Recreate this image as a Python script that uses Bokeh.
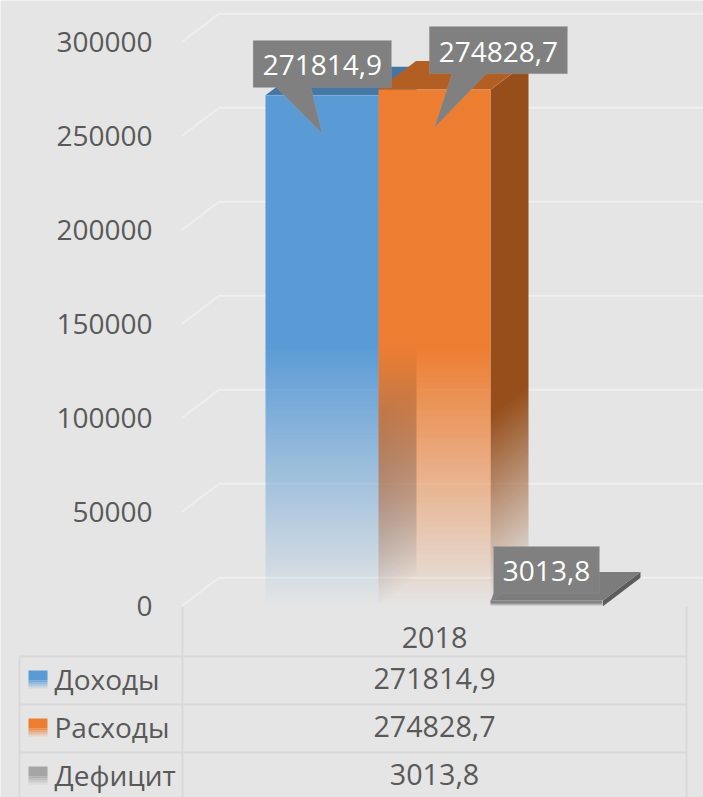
import math
import numpy as np
from bokeh.plotting import figure
from bokeh.models import LinearAxis, FixedTicker, BasicTickFormatter, ColumnDataSource
from bokeh.core.properties import value
from bokeh.embed import file_html
from bokeh.resources import INLINE

# ---- data ----
year = "2018"
series = ["Доходы", "Расходы", "Дефицит"]
values = [271814.9, 274828.7, 3013.8]
labels = ["271814,9", "274828,7", "3013,8"]
ticks = [0, 50000, 100000, 150000, 200000, 250000, 300000]

# ---- style / layout (pixels) ----
W, H = 703, 797
BG = "#e5e5e5"
GRID = "#efefef"
TABLE = "#d9d9d9"
TXT = "#595959"
FONT = "Open Sans"
FS = "28px"
FS_TABLE = "28.7px"
FS_LEG = "28px"
Y0 = 605.7            # pixel row of value 0 at the front
PX_PER = 94.0 / 50000 # pixels per unit
DX, DY = 37.5, 28.5   # depth of the 3D projection
BAR_X = [265, 378, 490]
BAR_W = [113, 112, 112]
FADE_FROM = 0.5 * max(values)
COL_FRONT = ["#5b9bd5", "#ed7d31", "#808080"]
COL_TOP = ["#4676a3", "#b35e22", "#7c7c7c"]
COL_SIDE = ["#3f6a92", "#964e1b", "#5c5c5c"]


def yd(px):
    return (Y0 - px) / PX_PER


def off(px):
    return px / PX_PER


def rowof(v):
    return Y0 - v * PX_PER


p = figure(width=W, height=H, output_backend="svg", toolbar_location=None,
           x_range=(0, W), y_range=(yd(H), yd(0)), min_border=0,
           background_fill_color=BG, border_fill_color=BG, outline_line_color=None)
p.xaxis.visible = False
p.yaxis.visible = False
p.grid.visible = False

axis = LinearAxis(fixed_location=181, ticker=FixedTicker(ticks=ticks),
                  formatter=BasicTickFormatter(use_scientific=False),
                  axis_line_color=None, major_tick_line_color=None, minor_tick_line_color=None,
                  major_label_standoff=23, major_label_text_font=FONT,
                  major_label_text_font_size=FS, major_label_text_color=TXT)
p.add_layout(axis, "left")

for t in ticks:
    p.line([181, 181 + DX, W], [t, t + off(DY), t + off(DY)], line_color=GRID, line_width=2)


def face(x0, w, v, color, skewed=False, gain=1.0, fade_from=FADE_FROM):
    """A bar face as an RGBA picture that fades towards the floor."""
    depth = DY if skewed else 0
    top = math.floor(rowof(v) - depth)
    last = math.ceil(Y0)
    rows_ = np.arange(top, last)[:, None] + 0.5
    cols = (np.arange(w)[None, :] + 0.5)
    f = rows_ + cols / DX * depth
    first = rowof(fade_from)
    t = np.clip(gain * (Y0 - f) / (Y0 - first), 0, 1)
    cover = np.clip(f - rowof(v) + 0.5, 0, 1) * np.clip(Y0 - f + 0.5, 0, 1)
    rgba = np.zeros((last - top, w, 4), dtype=np.uint8)
    for k, i in enumerate((1, 3, 5)):
        rgba[..., k] = int(color[i:i + 2], 16)
    rgba[..., 3] = np.round(255 * t * cover).astype(np.uint8)
    img = rgba[::-1].view(np.uint32).reshape(last - top, w)
    p.image_rgba(image=[img], x=x0, y=yd(last), dw=w, dh=off(last - top))


# walls, tops, front faces
face(BAR_X[1], 38, values[0], COL_SIDE[0], skewed=True, gain=1.35)
face(BAR_X[2], 38, values[1], COL_SIDE[1], skewed=True, gain=1.35)
for i in (0, 1):
    v = values[i]
    x = BAR_X[i]
    w = BAR_W[i]
    p.patch([x, x + DX, x + w + DX, x + w], [v, v + off(DY), v + off(DY), v],
            fill_color=COL_TOP[i], line_color=None)
face(BAR_X[0], BAR_W[0], values[0], COL_FRONT[0])
face(BAR_X[1], BAR_W[1], values[1], COL_FRONT[1])

# deficit slab
x2, w2 = BAR_X[2], BAR_W[2] + 0.5
p.patch([x2 + w2, x2 + w2 + DX, x2 + w2 + DX, x2 + w2],
        [0, off(DY), values[2] + off(DY), values[2]], fill_color=COL_SIDE[2], line_color=None)
p.patch([x2, x2 + DX, x2 + w2 + DX, x2 + w2],
        [values[2], values[2] + off(DY), values[2] + off(DY), values[2]], fill_color=COL_TOP[2], line_color=None)
face(BAR_X[2], BAR_W[2], values[2], COL_FRONT[2], fade_from=values[2] * 0.6)

# callouts
CALL = "#808080"
boxes = [
    dict(l=252.6, r=391.0, dtop=-54.7, dbot=-7.7, b0=276.0, b1=310.5, tip=321.7, dtip=38.5, dtext=1),
    dict(l=428.8, r=567.0, dtop=-63.0, dbot=-15.7, b0=451.6, b1=486.0, tip=434.0, dtip=38.0, dtext=1.5),
    dict(l=493.0, r=599.0, dtop=-54.0, dbot=-7.3, b0=493.0, b1=501.0, tip=490.0, dtip=1.5, dtext=1),
]
for b, v, lab in zip(boxes, values, labels):
    top, bot = v - off(b["dtop"]), v - off(b["dbot"])
    tip = v - off(b["dtip"])
    p.patch([b["l"], b["r"], b["r"], b["b1"], b["tip"], b["b0"], b["l"]],
            [top, top, bot, bot, tip, bot, bot], fill_color=CALL, line_color="#a6a6a6",
            line_width=0.7, line_alpha=0.3)
    p.text([(b["l"] + b["r"]) / 2], [(top + bot) / 2 - off(b["dtext"])], text=[lab], text_color="#ffffff",
           text_font=value(FONT), text_font_size=FS, text_align="center", text_baseline="middle")

# data table
tx0, tx1, tx2 = 19, 182, 686
rows = [656, 704, 752, 800]
for r in rows:
    p.line([tx0, tx2], [yd(r), yd(r)], line_color=TABLE, line_width=2)
p.line([tx1, tx1], [yd(606), yd(H)], line_color=TABLE, line_width=2)
p.line([tx2, tx2], [yd(606), yd(H)], line_color=TABLE, line_width=2)
p.line([tx0, tx0], [yd(656), yd(H)], line_color=TABLE, line_width=2)

p.text([434], [yd(637)], text=[year], text_color=TXT, text_font=value(FONT), text_font_size=FS_TABLE,
       text_align="center", text_baseline="middle")
src = ColumnDataSource(dict(
    x=[434] * 3, y=[yd(r + 22) for r in rows[:3]], t=labels,
    lx=[54] * 3, n=series))
p.text("x", "y", text="t", source=src, text_color=TXT, text_font=value(FONT), text_font_size=FS_TABLE,
       text_align="center", text_baseline="middle")
p.text("lx", "y", text="n", source=src, text_color=TXT, text_font=value(FONT), text_font_size=FS_LEG,
       text_align="left", text_baseline="middle")

# legend keys
KEY = ["#5b9bd5", "#ed7d31", "#a5a5a5"]
for r, c in zip(rows[:3], KEY):
    top = r + 14
    p.quad(left=28, right=47, top=yd(top), bottom=yd(top + 10), fill_color=c, line_color=None)
    for i in range(4):
        p.quad(left=28, right=47, top=yd(top + 10 + 2 * i), bottom=yd(top + 12 + 2 * i),
               fill_color=c, fill_alpha=0.8 - 0.22 * i, line_color=None)

html = file_html(p, INLINE)
html = html.replace("<body", f'<body style="margin:0;background:{BG};overflow:hidden"', 1)
open("out.html", "w").write(html)
